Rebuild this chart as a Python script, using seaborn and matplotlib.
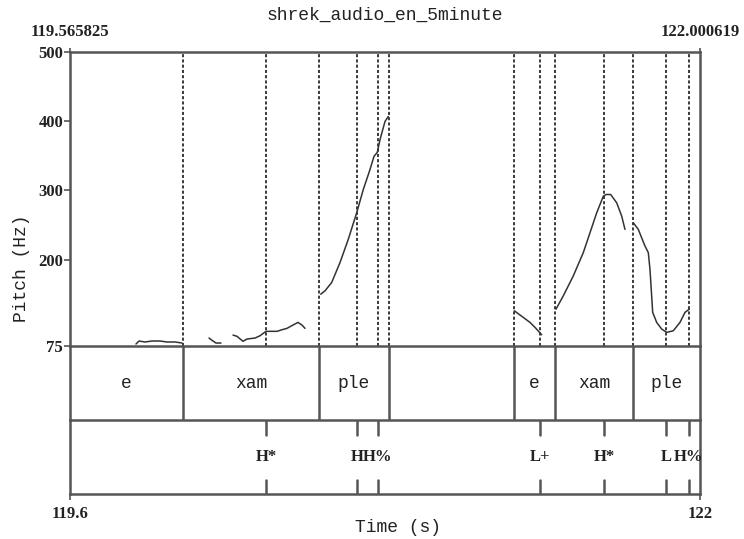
import numpy as np
import pandas as pd
import matplotlib
matplotlib.use("Agg")
import matplotlib.pyplot as plt
import seaborn as sns

# ---------------- data ----------------
title = "shrek_audio_en_5minute"
t_start, t_end = 119.565825, 122.000619
top_labels = ["119.565825", "122.000619"]
bottom_labels = ["119.6", "122"]
pitch_min, pitch_max = 75, 500
y_ticks = [75, 200, 300, 400, 500]

# pitch contour segments (time s, pitch Hz)
seg1_t = [119.8209, 119.8325, 119.8557, 119.8827, 119.9136, 119.9407, 119.9716, 119.9987]
seg1_f = [77.9, 82.2, 80.8, 82.2, 82.2, 80.8, 80.8, 79.3]
seg2_t = [120.1030, 120.1185, 120.1301, 120.1494]
seg2_f = [86.5, 82.2, 79.3, 79.3]
seg3_t = [120.1958, 120.2112, 120.2344, 120.2499, 120.2808, 120.3001, 120.3233,
          120.3658, 120.3851, 120.4044, 120.4276, 120.4470, 120.4624, 120.4740]
seg3_f = [90.8, 89.0, 81.8, 85.1, 86.5, 89.8, 96.2, 96.2, 98.5, 100.5, 105.3, 109.1, 105.3, 100.5]
seg4_t = [120.5347, 120.5513, 120.5772, 120.6093, 120.6413, 120.6738, 120.6993,
          120.7252, 120.7407, 120.7534, 120.7639, 120.7832, 120.7960]
seg4_f = [149.9, 154.7, 166.8, 195.6, 229.2, 267.6, 301.2, 330.0, 349.2, 354.9, 373.2, 399.6, 406.8]
seg5_t = [121.2829, 121.3177, 121.3436, 121.3629, 121.3888]
seg5_f = [125.9, 116.3, 109.1, 101.9, 91.3]
seg6_t = [121.4441, 121.4723, 121.5109, 121.5496, 121.5755, 121.6014, 121.6269,
          121.6373, 121.6555, 121.6787, 121.6980, 121.7107]
seg6_f = [128.3, 147.5, 176.3, 210.0, 238.8, 267.6, 291.5, 294.0, 294.0, 282.0, 262.7, 243.6]
seg7_t = [121.7428, 121.7621, 121.7880, 121.8008, 121.8073, 121.8178, 121.8332,
          121.8525, 121.8719, 121.8974, 121.9233, 121.9426, 121.9592]
seg7_f = [253.2, 243.6, 219.5, 210.0, 185.9, 123.6, 109.1, 99.5, 94.7, 97.0, 109.1, 123.6, 128.3]

# interval tier
interval_bounds = [120.0025, 120.5281, 120.7987, 121.2817, 121.4403, 121.7416]
interval_labels = ["e", "xam", "ple", "", "e", "xam", "ple"]
# point tier
point_times = [120.3233, 120.6750, 120.7561, 121.3823, 121.6296, 121.8692, 121.9581]
point_labels = ["H*", "H", "H%", "L+", "H*", "L", "H%"]

# ---------------- build ----------------
segs = [(seg1_t, seg1_f), (seg2_t, seg2_f), (seg3_t, seg3_f), (seg4_t, seg4_f),
        (seg5_t, seg5_f), (seg6_t, seg6_f), (seg7_t, seg7_f)]
df = pd.concat([pd.DataFrame({"time": t, "pitch": f, "seg": i}) for i, (t, f) in enumerate(segs)],
               ignore_index=True)

sns.set_style("white")
MONO = "Liberation Mono"
SERIF = "Liberation Serif"
LINE = "#555555"
TXT = "#222222"

W, H = 744, 539
fig = plt.figure(figsize=(W / 100, H / 100), dpi=100)
fig.patch.set_facecolor("white")

def box(x0, y0, x1, y1):
    return [x0 / W, 1 - y1 / H, (x1 - x0) / W, (y1 - y0) / H]

ax_p = fig.add_axes(box(70, 52, 700, 346))
ax_i = fig.add_axes(box(70, 346, 700, 420))
ax_pt = fig.add_axes(box(70, 420, 700, 494))

for ax in (ax_p, ax_i, ax_pt):
    ax.set_xlim(t_start, t_end)
    ax.patch.set_alpha(0)
    for s in ax.spines.values():
        s.set_color(LINE)
        s.set_linewidth(1.8)
    ax.set_yticks([])
    ax.set_xticks([])
    ax.set_xlabel("")
    ax.set_ylabel("")
ax_i.spines["top"].set_visible(False)
ax_pt.spines["top"].set_visible(False)

# pitch contour
sns.lineplot(data=df, x="time", y="pitch", units="seg", estimator=None, sort=False,
             color="#333333", linewidth=1.1, legend=False, ax=ax_p)
ax_p.set_ylim(pitch_min, pitch_max)
ax_p.set_xlim(t_start, t_end)
ax_p.set_xlabel("")
ax_p.set_ylabel("")

# dashed vertical lines in pitch area
for t in sorted(interval_bounds + point_times):
    ax_p.axvline(t, color="#3a3a3a", linewidth=1.4, linestyle=(0, (1.6, 1.1)), zorder=1)

# y ticks
ax_p.set_yticks(y_ticks)
ax_p.set_yticklabels([str(v) for v in y_ticks], fontfamily=SERIF, fontweight="bold",
                     fontsize=12, color=TXT)
ax_p.tick_params(axis="y", left=True, direction="out", length=4, width=1.2, color=LINE, pad=1)

# top labels
ax_p.set_xticks([t_start, t_end])
ax_p.set_xticklabels(top_labels, fontfamily=SERIF, fontweight="bold", fontsize=12, color=TXT)
ax_p.tick_params(axis="x", top=True, labeltop=True, bottom=False, labelbottom=False,
                 direction="out", length=3, width=1.2, color=LINE, pad=6)

# interval tier
ax_i.set_ylim(0, 1)
edges = [t_start] + interval_bounds + [t_end]
for b in interval_bounds:
    ax_i.axvline(b, color=LINE, linewidth=1.8)
for a, b, lab in zip(edges[:-1], edges[1:], interval_labels):
    if lab:
        ax_i.text((a + b) / 2, 0.5, lab, ha="center", va="center", fontfamily=MONO,
                  fontsize=13, color=TXT)

# point tier
ax_pt.set_ylim(0, 1)
for t, lab in zip(point_times, point_labels):
    ax_pt.plot([t, t], [1.0, 0.8], color=LINE, linewidth=1.8)
    ax_pt.plot([t, t], [0.0, 0.19], color=LINE, linewidth=1.8)
    ax_pt.text(t, 0.5, lab, ha="center", va="center", fontfamily=SERIF, fontweight="bold",
               fontsize=12, color=TXT)

# bottom labels
ax_pt.set_xticks([t_start, t_end])
ax_pt.set_xticklabels(bottom_labels, fontfamily=SERIF, fontweight="bold", fontsize=12, color=TXT)
ax_pt.tick_params(axis="x", bottom=True, direction="out", length=4, width=1.2, color=LINE, pad=5)

# titles / axis labels
fig.text(385 / W, 1 - 15 / H, title, ha="center", va="center", fontfamily=MONO, fontsize=13, color=TXT)
fig.text(398 / W, 1 - 528 / H, "Time (s)", ha="center", va="center", fontfamily=MONO, fontsize=13, color=TXT)
fig.text(22 / W, 1 - 268 / H, "Pitch (Hz)", ha="center", va="center", rotation=90,
         fontfamily=MONO, fontsize=13, color=TXT)

fig.savefig("out.png", dpi=100, facecolor="white")
